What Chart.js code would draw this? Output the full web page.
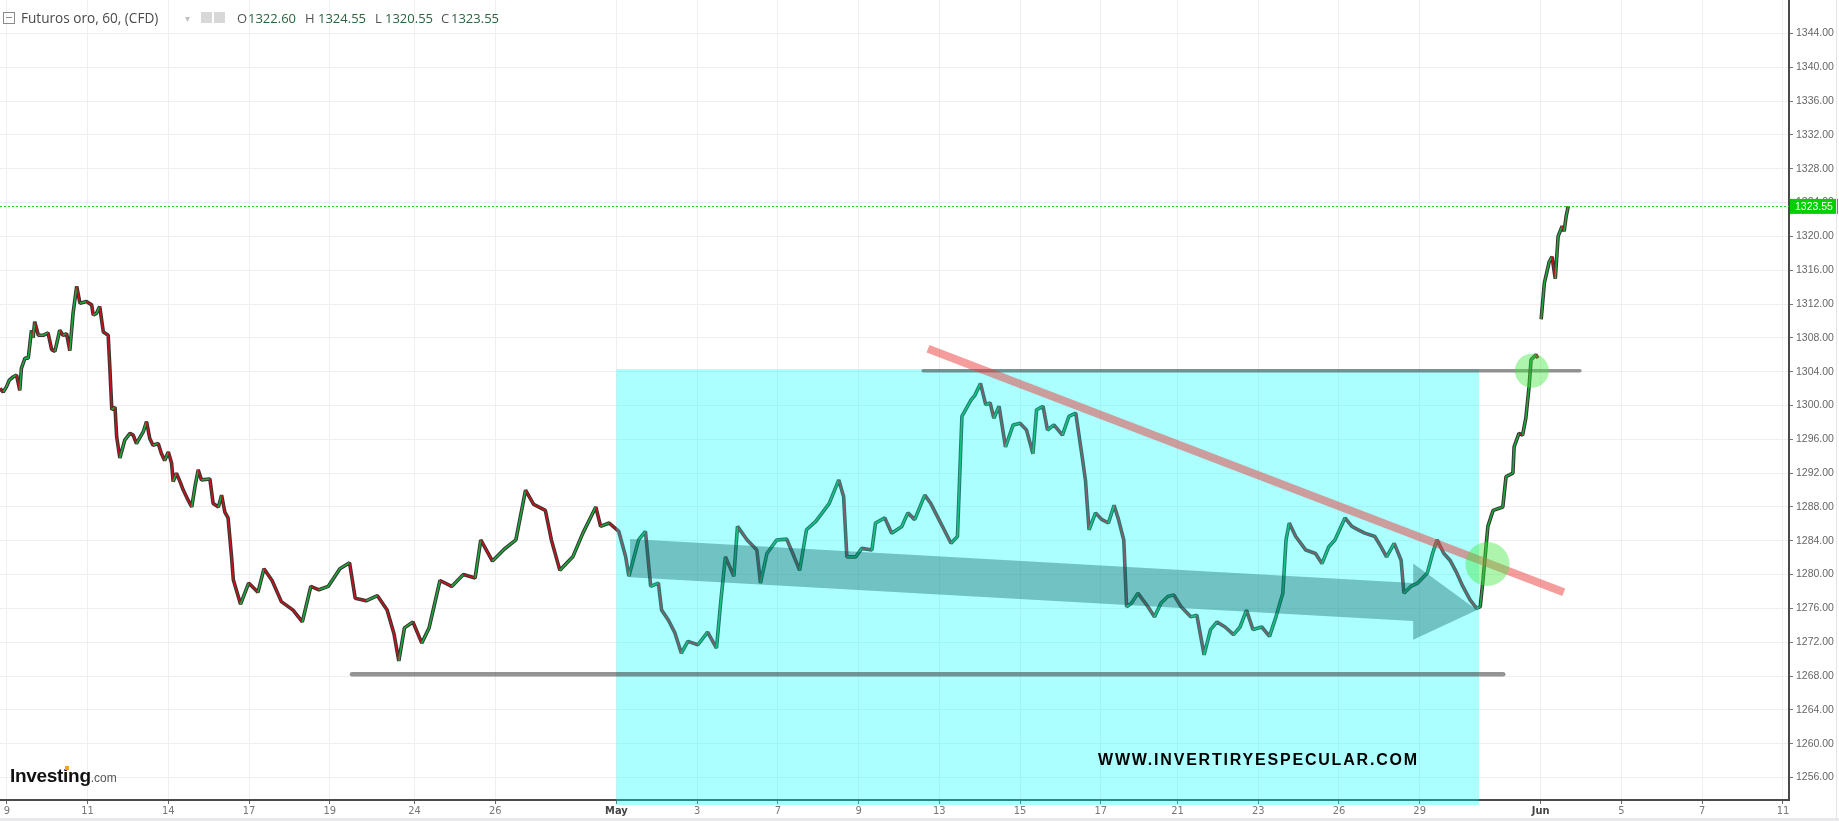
<!DOCTYPE html>
<html>
<head>
<meta charset="utf-8">
<script src="https://cdn.jsdelivr.net/npm/chart.js@4.4.1/dist/chart.umd.min.js"></script>
<style>
  html, body { margin: 0; padding: 0; background: #fff; overflow: hidden; }
  #wrap { position: relative; width: 1839px; height: 821px; }
  #wrap canvas { position: absolute; left: 0; top: 0; }
  .abs { position: absolute; white-space: nowrap; }
  .hdr { font-family: 'Open Sans', 'Liberation Sans', sans-serif; top: 8px; line-height: 20px; }
  .lbl { color: #555; font-size: 13px; }
  .val { color: #27643f; font-size: 13px; }
</style>
</head>
<body>
<div id="wrap">
  <canvas id="goldChart"></canvas>

  <div class="abs" style="left:3px;top:12px;width:10px;height:10px;border:1px solid #8a8a8a;"></div>
  <div class="abs" style="left:6px;top:17px;width:6px;height:1px;background:#8a8a8a;"></div>
  <span class="abs hdr" style="left:21px;font-size:13.6px;color:#4a4a4a;">Futuros oro, 60, (CFD)</span>
  <span class="abs hdr" style="left:185px;font-size:10px;color:#c0c0c0;">&#9662;</span>
  <div class="abs" style="left:201px;top:12px;width:11px;height:11px;background:#d8d8d8;"></div>
  <div class="abs" style="left:214px;top:12px;width:11px;height:11px;background:#d8d8d8;"></div>
  <span class="abs hdr lbl" style="left:237px;">O</span>
  <span class="abs hdr val" style="left:248px;" id="vO"></span>
  <span class="abs hdr lbl" style="left:305px;">H</span>
  <span class="abs hdr val" style="left:318px;" id="vH"></span>
  <span class="abs hdr lbl" style="left:375px;">L</span>
  <span class="abs hdr val" style="left:385px;" id="vL"></span>
  <span class="abs hdr lbl" style="left:441px;">C</span>
  <span class="abs hdr val" style="left:451px;" id="vC"></span>

  <div class="abs" style="left:10px;top:766px;line-height:1;font-family:'Liberation Sans',Arial,sans-serif;">
    <span style="font-size:19px;font-weight:bold;color:#111;letter-spacing:-0.3px;">Investing</span><span style="font-size:12px;color:#555;">.com</span>
  </div>
  <div class="abs" style="left:65px;top:766px;width:4px;height:4px;background:#f7a21b;"></div>

  <div class="abs" style="left:1098px;top:752px;line-height:1;font-family:'Liberation Sans',Arial,sans-serif;font-weight:bold;font-size:16px;letter-spacing:1.8px;color:#000;">WWW.INVERTIRYESPECULAR.COM</div>
</div>

<script>
// time axis in trading days, 0 = 9 April
const xTickDays = [0, 2, 4, 6, 8, 10.1, 12.1, 15.1, 17.1, 19.1, 21.1, 23.1, 25.1, 27.1, 29, 31, 33, 35, 38, 40, 42, 44];
const xTickLabels = ["9", "11", "14", "17", "19", "24", "26", "May", "3", "7", "9", "13", "15", "17", "21", "23", "26", "29", "Jun", "5", "7", "11"];
const yTicks = [1256, 1260, 1264, 1268, 1272, 1276, 1280, 1284, 1288, 1292, 1296, 1300, 1304, 1308, 1312, 1316, 1320, 1324, 1328, 1332, 1336, 1340, 1344];

// hourly price path (sampled)
const priceDays = [
    -0.17, -0.09, -0.01, 0.06, 0.16, 0.24, 0.32, 0.36, 0.45, 0.53, 0.61, 0.65, 0.69, 0.78, 0.90, 1.02, 1.11, 1.19, 1.31, 1.39,
    1.48, 1.56, 1.64, 1.73, 1.81, 1.97, 2.10, 2.14, 2.22, 2.30, 2.39, 2.51, 2.55, 2.60, 2.68, 2.72, 2.80, 2.92, 3.05, 3.13,
    3.21, 3.38, 3.46, 3.54, 3.62, 3.75, 3.83, 3.91, 4.00, 4.08, 4.12, 4.20, 4.29, 4.37, 4.49, 4.58, 4.66, 4.74, 4.82, 5.03,
    5.11, 5.24, 5.32, 5.40, 5.48, 5.57, 5.61,
    5.79, 5.99, 6.22, 6.37, 6.57, 6.80, 7.09, 7.32, 7.53, 7.73, 7.96, 8.25, 8.49, 8.63, 8.90, 9.18, 9.42, 9.59, 9.71, 9.85,
    10.06, 10.28, 10.46, 10.73, 11.02, 11.31, 11.60, 11.74, 12.03, 12.32, 12.61, 12.85, 13.05, 13.34, 13.49,
    13.70, 14.02, 14.27, 14.59, 14.71, 14.92, 15.16, 15.33, 15.41, 15.65, 15.82, 15.95, 16.14, 16.22, 16.39, 16.55, 16.71, 16.87, 17.12, 17.36,
    17.58, 17.69, 17.80, 18.01, 18.10, 18.34, 18.58, 18.67, 18.83, 19.07, 19.32, 19.47, 19.64, 19.81, 20.04, 20.37, 20.61, 20.73, 20.81, 21.03,
    21.18, 21.43, 21.52, 21.75, 21.92, 22.17, 22.32, 22.49, 22.74, 22.89, 23.06, 23.22, 23.39, 23.55, 23.66, 23.88, 23.98, 24.12, 24.25, 24.36,
    24.45, 24.58, 24.74, 24.93, 25.10, 25.26, 25.42, 25.51, 25.67, 25.78, 25.94, 26.15, 26.31, 26.48, 26.64, 26.72, 26.81, 26.97, 27.13, 27.29,
    27.43, 27.54, 27.67, 27.74, 27.86, 28.02, 28.27, 28.43, 28.59, 28.76, 28.91, 29.09, 29.33, 29.48, 29.66, 29.82, 29.98, 30.18, 30.39, 30.55,
    30.71, 30.87, 31.09, 31.28, 31.44, 31.61, 31.69, 31.77, 31.93, 32.18, 32.42, 32.58, 32.75, 32.90, 33.15, 33.32, 33.48, 33.64, 33.89, 34.04,
    34.18, 34.37, 34.54, 34.61, 34.78, 34.95, 35.19, 35.32, 35.43, 35.60, 35.75, 35.92, 36.07, 36.25, 36.41, 36.50, 36.57, 36.69, 36.82, 37.06,
    37.14, 37.31, 37.34, 37.46, 37.55, 37.63, 37.71, 37.76, 37.88, 37.93, 37.97,
    38.01, 38.09, 38.21, 38.28, 38.36, 38.43, 38.53, 38.58, 38.63, 38.68,
];
const priceValues = [
    1302.0, 1301.6, 1302.2, 1303.0, 1303.4, 1303.6, 1301.8, 1304.4, 1305.6, 1305.6, 1308.9, 1308.0, 1309.9, 1308.3, 1308.3, 1308.6, 1306.6, 1306.4, 1308.9, 1308.3,
    1308.5, 1306.5, 1310.9, 1314.1, 1312.1, 1312.3, 1311.9, 1310.7, 1310.9, 1311.7, 1308.7, 1308.3, 1304.6, 1299.5, 1299.8, 1296.3, 1293.8, 1295.9, 1296.7, 1296.5,
    1295.5, 1296.9, 1298.1, 1296.1, 1295.3, 1295.5, 1294.3, 1293.5, 1294.5, 1293.2, 1291.0, 1292.0, 1291.0, 1290.0, 1288.8, 1288.0, 1290.4, 1292.4, 1291.2, 1291.3,
    1288.4, 1288.0, 1289.4, 1287.4, 1286.7, 1281.9, 1279.4,
    1276.5, 1279.0, 1277.9, 1280.7, 1279.3, 1276.8, 1275.8, 1274.4, 1278.6, 1278.2, 1278.6, 1280.7, 1281.4, 1277.2, 1276.9, 1277.5, 1275.8, 1273.0, 1269.8, 1273.7,
    1274.4, 1271.9, 1273.7, 1279.3, 1278.6, 1280.0, 1279.6, 1284.1, 1281.6, 1283.0, 1284.1, 1290.0, 1288.3, 1287.6, 1284.1,
    1280.5, 1282.1, 1284.9, 1288.0, 1285.7, 1286.1, 1285.1, 1282.1, 1279.8, 1284.1, 1285.1, 1278.6, 1279.0, 1275.8, 1274.6, 1273.1, 1270.7, 1272.1, 1271.7, 1273.2,
    1271.3, 1277.0, 1282.1, 1279.8, 1285.7, 1284.1, 1282.9, 1279.0, 1282.5, 1284.1, 1284.2, 1282.5, 1280.5, 1285.3, 1286.3, 1288.4, 1291.2, 1289.2, 1282.1, 1282.1,
    1283.1, 1282.9, 1286.1, 1286.7, 1284.9, 1285.7, 1287.3, 1286.5, 1289.4, 1288.4, 1286.8, 1285.3, 1283.7, 1284.5, 1298.7, 1300.6, 1301.2, 1302.6, 1300.1, 1300.3,
    1298.5, 1299.9, 1295.1, 1297.7, 1297.9, 1297.1, 1294.3, 1299.5, 1299.9, 1297.1, 1297.7, 1296.5, 1298.7, 1299.1, 1293.9, 1291.2, 1285.3, 1287.3, 1286.5, 1286.1,
    1288.2, 1286.5, 1284.1, 1276.2, 1276.6, 1277.8, 1276.2, 1275.0, 1276.6, 1277.4, 1277.6, 1276.2, 1275.0, 1275.2, 1270.5, 1273.5, 1274.4, 1273.8, 1272.9, 1273.8,
    1275.8, 1273.5, 1273.8, 1272.7, 1275.0, 1277.8, 1284.1, 1286.1, 1284.5, 1282.9, 1282.5, 1281.3, 1283.3, 1284.1, 1286.7, 1285.7, 1285.3, 1284.9, 1284.5, 1283.3,
    1282.1, 1283.7, 1281.7, 1277.8, 1278.6, 1279.0, 1280.2, 1282.5, 1284.1, 1282.5, 1281.7, 1280.2, 1278.6, 1277.0, 1276.0, 1276.2, 1279.4, 1285.7, 1287.6, 1288.0,
    1291.6, 1292.0, 1295.1, 1296.7, 1296.5, 1298.5, 1302.2, 1305.4, 1306.0, 1305.6, null,
    1310.2, 1314.5, 1317.0, 1317.6, 1315.0, 1320.0, 1321.2, 1320.6, 1322.4, 1323.55,
];

// last bar
const ohlcLabels = ["1322.60", "1324.55", "1320.55", "1323.55"];
const lastPrice = 1323.55;

// drawings on the chart, in [day, price]
const rangeBox = [[15.1, 1304.3], [36.47, 1252.75]];
const supportLine = [[8.55, 1268.2], [37.07, 1268.2]];
const resistanceLine = [[22.70, 1304.1], [38.97, 1304.1]];
const trendLine = [[22.82, 1306.7], [38.57, 1277.9]];
const arrowShape = [
    [15.44, 1284.2], [34.84, 1279.0], [34.84, 1281.3], [36.42, 1275.8],
    [34.84, 1272.3], [34.84, 1274.5], [15.44, 1279.7],
];
const breakoutMarks = [[36.68, 1281.25], [37.78, 1304.1]];

["vO", "vH", "vL", "vC"].forEach((id, i) => {
    document.getElementById(id).textContent = ohlcLabels[i];
});

const upColor = "#1fa83a";
const downColor = "#c4141b";
const tickFont = "'Liberation Sans Narrow', 'DejaVu Sans Condensed', 'Liberation Sans', sans-serif";

const drawingsPlugin = {
    id: "drawings",
    afterDatasetsDraw(chart) {
        const { ctx, chartArea: area, scales } = chart;
        const px = (d) => scales.x.getPixelForValue(d);
        const py = (v) => scales.y.getPixelForValue(v);
        ctx.save();

        // cyan range box
        ctx.fillStyle = "rgba(0, 255, 255, 0.33)";
        const bx0 = px(rangeBox[0][0]);
        const by0 = py(rangeBox[0][1]);
        ctx.fillRect(bx0, by0, px(rangeBox[1][0]) - bx0, py(rangeBox[1][1]) - by0);

        ctx.beginPath();
        ctx.rect(area.left, area.top, area.right - area.left, area.bottom - area.top);
        ctx.clip();

        // horizontal support / resistance
        ctx.lineCap = "round";
        ctx.strokeStyle = "rgba(60, 60, 60, 0.55)";
        [[supportLine, 4.5], [resistanceLine, 3.5]].forEach(([ln, w]) => {
            ctx.lineWidth = w;
            ctx.beginPath();
            ctx.moveTo(px(ln[0][0]), py(ln[0][1]));
            ctx.lineTo(px(ln[1][0]), py(ln[1][1]));
            ctx.stroke();
        });

        // big arrow
        ctx.fillStyle = "rgba(0, 80, 80, 0.34)";
        ctx.beginPath();
        arrowShape.forEach(([d, v], i) => (i ? ctx.lineTo(px(d), py(v)) : ctx.moveTo(px(d), py(v))));
        ctx.closePath();
        ctx.fill();

        // downtrend line
        ctx.lineCap = "butt";
        ctx.strokeStyle = "rgba(235, 60, 60, 0.5)";
        ctx.lineWidth = 8;
        ctx.beginPath();
        ctx.moveTo(px(trendLine[0][0]), py(trendLine[0][1]));
        ctx.lineTo(px(trendLine[1][0]), py(trendLine[1][1]));
        ctx.stroke();

        // breakout circles
        ctx.fillStyle = "rgba(60, 230, 60, 0.42)";
        [22, 17].forEach((r, i) => {
            ctx.beginPath();
            ctx.arc(px(breakoutMarks[i][0]), py(breakoutMarks[i][1]), r, 0, Math.PI * 2);
            ctx.fill();
        });

        // last price line
        ctx.strokeStyle = "#2fcf2f";
        ctx.lineWidth = 1;
        ctx.setLineDash([2, 2]);
        const ly = Math.round(py(lastPrice)) + 0.5;
        ctx.beginPath();
        ctx.moveTo(area.left, ly);
        ctx.lineTo(area.right, ly);
        ctx.stroke();
        ctx.restore();
    },
    afterDraw(chart) {
        const { ctx, scales } = chart;
        const y = scales.y;
        const ly = y.getPixelForValue(lastPrice);
        ctx.save();
        ctx.fillStyle = "#00d000";
        ctx.fillRect(y.left + 1, ly - 7.5, 48, 15);
        ctx.fillStyle = "#fff";
        ctx.font = "10.5px 'Liberation Sans', Arial, sans-serif";
        ctx.textBaseline = "middle";
        ctx.fillText(lastPrice.toFixed(2), y.left + 6, ly + 0.5);
        ctx.fillStyle = "#e9e9eb";
        ctx.fillRect(0, chart.height - 3, chart.width, 3);
        ctx.fillStyle = "#e4e4e4";
        ctx.fillRect(chart.width - 3, 0, 1, chart.height - 3);
        ctx.restore();
    },
};

const pricePoints = priceDays.map((d, i) => ({ x: d, y: priceValues[i] }));

const goldChart = new Chart(document.getElementById("goldChart"), {
    type: "line",
    data: {
        datasets: [
            {
                data: pricePoints,
                borderWidth: 1.6,
                borderColor: upColor,
                pointRadius: 0,
                borderJoinStyle: "bevel",
                segment: {
                    borderColor: (c) => (c.p1.parsed.y >= c.p0.parsed.y ? upColor : downColor),
                },
            },
            {
                data: pricePoints,
                borderWidth: 3.6,
                borderColor: "#353535",
                pointRadius: 0,
                borderJoinStyle: "bevel",
            },
        ],
    },
    plugins: [drawingsPlugin],
    options: {
        responsive: true,
        maintainAspectRatio: false,
        animation: false,
        spanGaps: false,
        layout: { padding: 0 },
        plugins: {
            legend: { display: false },
            tooltip: { enabled: false },
        },
        scales: {
            x: {
                type: "linear",
                position: "bottom",
                min: -0.17,
                max: 44.15,
                afterBuildTicks: (s) => {
                    s.ticks = xTickDays.map((v) => ({ value: v }));
                },
                afterFit: (s) => {
                    s.height = 21;
                    s.paddingLeft = 0;
                    s.paddingRight = 0;
                },
                grid: { color: "#efefef", tickLength: 4, tickColor: "#666" },
                border: { color: "#4a4a4a", width: 2 },
                ticks: {
                    autoSkip: false,
                    maxRotation: 0,
                    padding: 1,
                    color: (c) => (xTickLabels[c.index] && xTickLabels[c.index].length === 3 ? "#444" : "#777"),
                    font: (c) => ({
                        family: tickFont,
                        size: 11,
                        weight: xTickLabels[c.index] && xTickLabels[c.index].length === 3 ? "bold" : "normal",
                    }),
                    callback: (v, i) => xTickLabels[i],
                },
            },
            y: {
                position: "right",
                min: 1253.34,
                max: 1347.96,
                afterBuildTicks: (s) => {
                    s.ticks = yTicks.map((v) => ({ value: v }));
                },
                afterFit: (s) => {
                    s.width = 50;
                    s.paddingTop = 0;
                    s.paddingBottom = 0;
                },
                grid: { color: "#efefef", tickLength: 4, tickColor: "#777" },
                border: { color: "#4a4a4a", width: 2 },
                ticks: {
                    padding: 3,
                    color: "#666",
                    font: { family: "'Liberation Sans', Arial, sans-serif", size: 10.5 },
                    callback: (v) => v.toFixed(2),
                },
            },
        },
    },
});
</script>
</body>
</html>
